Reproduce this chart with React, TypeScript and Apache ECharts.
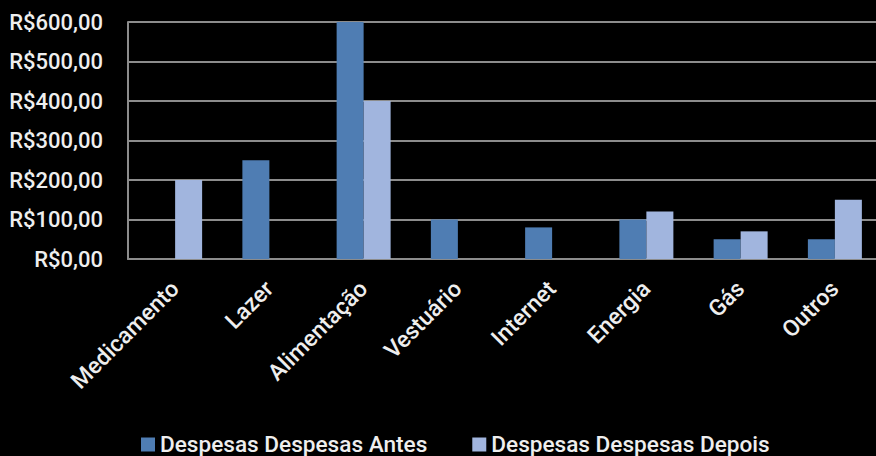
import React, { useEffect, useRef } from "react";
import * as echarts from "echarts";

const categories = ["Medicamento", "Lazer", "Alimentação", "Vestuário", "Internet", "Energia", "Gás", "Outros"];
const antes = [0, 250, 600, 100, 80, 100, 50, 50];
const depois = [200, 0, 400, 0, 0, 120, 70, 150];
const seriesNames = ["Despesas Despesas Antes", "Despesas Despesas Depois"];
const yTicks = [0, 100, 200, 300, 400, 500, 600];

const FONT = "Roboto, 'Noto Sans', sans-serif";
const TEXT = "#eeeeee";
const GRID = "#8c8c8c";

const money = (v: number) => "R$" + v.toFixed(2).replace(".", ",");

export default function App() {
  const ref = useRef<HTMLDivElement>(null);

  useEffect(() => {
    if (!ref.current) return;
    const chart = echarts.init(ref.current, null, { renderer: "svg" });
    chart.setOption({
      animation: false,
      backgroundColor: "#000000",
      // the plot area runs a little past the right edge of the visible frame
      grid: { left: 128, top: 22, width: 754, height: 237, containLabel: false },
      legend: {
        top: 428,
        left: 136,
        itemWidth: 14,
        itemHeight: 14,
        itemGap: 45,
        icon: "rect",
        textStyle: { color: TEXT, fontFamily: FONT, fontSize: 22.6, fontWeight: 500 },
        data: seriesNames,
      },
      xAxis: {
        type: "category",
        data: categories,
        axisLine: { show: true, lineStyle: { color: GRID, width: 2 } },
        axisTick: { show: false },
        axisLabel: {
          rotate: 45,
          interval: 0,
          margin: 26,
          color: TEXT,
          fontFamily: FONT,
          fontSize: 23,
          fontWeight: 500,
        },
      },
      yAxis: {
        type: "value",
        min: yTicks[0],
        max: yTicks[yTicks.length - 1],
        interval: 100,
        axisLine: { show: true, lineStyle: { color: GRID, width: 2 } },
        axisTick: { show: false },
        splitLine: { show: true, lineStyle: { color: GRID, width: 2 } },
        axisLabel: {
          margin: 25,
          color: TEXT,
          fontFamily: FONT,
          fontSize: 22,
          fontWeight: 500,
          formatter: (v: number) => money(v),
        },
      },
      series: [
        {
          name: seriesNames[0],
          type: "bar",
          data: antes,
          barWidth: 27,
          barGap: "0%",
          itemStyle: { color: "#4f7db3" },
        },
        {
          name: seriesNames[1],
          type: "bar",
          data: depois,
          barWidth: 27,
          barGap: "0%",
          itemStyle: { color: "#a1b5de" },
        },
      ],
    });
    return () => chart.dispose();
  }, []);

  return (
    <div style={{ position: "fixed", left: 0, top: 0, width: 876, height: 456, overflow: "hidden", background: "#000" }}>
      <div ref={ref} style={{ width: 884, height: 456 }} />
    </div>
  );
}
